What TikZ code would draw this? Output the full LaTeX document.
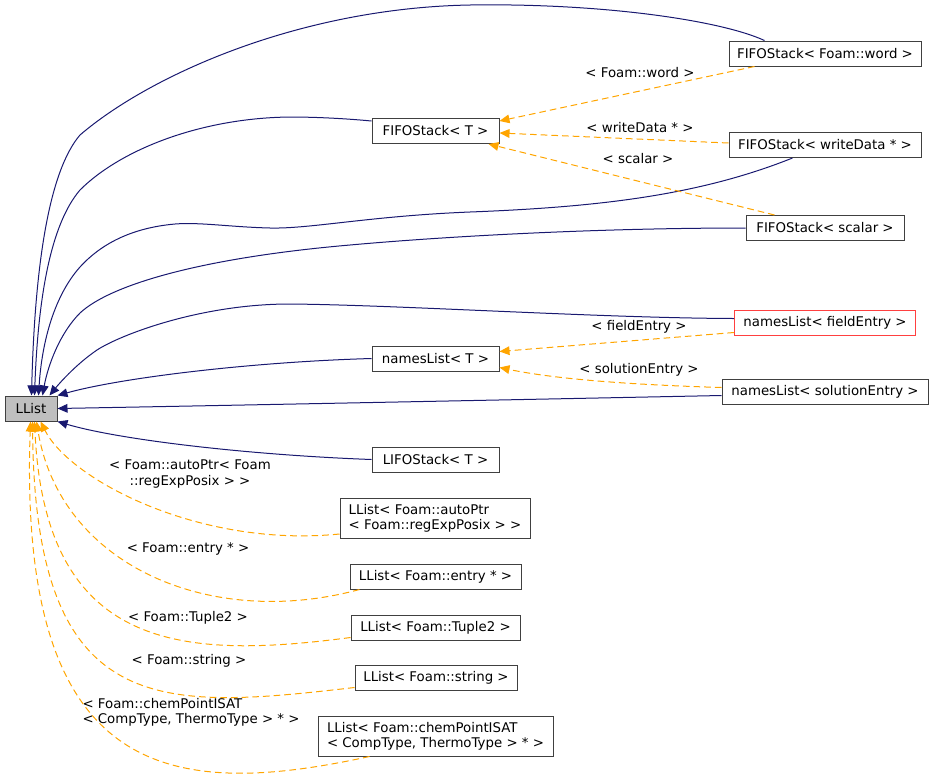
\documentclass[tikz,border=0pt]{standalone}
\usepackage{fontspec}
\setmainfont{DejaVu Sans}
\usetikzlibrary{arrows.meta,calc}
\definecolor{navyedge}{HTML}{191970}
\definecolor{tmpledge}{HTML}{FFA500}
\definecolor{boxline}{HTML}{404040}
\tikzstyle{cls} = [rectangle, draw=boxline, fill=white, line width=0.75pt, minimum height=18.75pt, inner xsep=0pt, font=\fontsize{10}{11.5}\selectfont]
\tikzstyle{lbl} = [inner sep=0pt, font=\fontsize{10}{11.5}\selectfont]
\tikzstyle{pub} = [->, navyedge, line width=0.75pt]
\tikzstyle{tmpl} = [->, tmpledge, line width=0.75pt, dash pattern=on 5pt off 3pt]

\begin{document}
\begin{tikzpicture}[x=0.75pt,y=-0.75pt,>={Triangle[length=7.5pt,width=6.5pt]}]
  \useasboundingbox (0,0) rectangle (933,783);

  % classes
  \node[cls, fill=black!25, minimum width=39pt] (llist) at (31,408.5) {LList};
  \node[cls, minimum width=144pt] (fword) at (825,53.5) {FIFOStack< Foam::word >};
  \node[cls, minimum width=95.25pt] (fT) at (435.5,131) {FIFOStack< T >};
  \node[cls, minimum width=144pt] (fwd) at (825,145) {FIFOStack< writeData * >};
  \node[cls, minimum width=118.5pt] (fscalar) at (825,228) {FIFOStack< scalar >};
  \node[cls, draw=red!75, minimum width=135.75pt] (nfield) at (825,322.5) {namesList< fieldEntry >};
  \node[cls, minimum width=95.25pt] (nT) at (435.5,358.5) {namesList< T >};
  \node[cls, minimum width=154.5pt] (nsol) at (825,391.5) {namesList< solutionEntry >};
  \node[cls, minimum width=95.25pt] (lT) at (435.5,459.5) {LIFOStack< T >};
  \node[cls, minimum width=142.5pt, minimum height=30pt, align=left] (lauto) at (435,518) {LList< Foam::autoPtr\\< Foam::regExpPosix > >};
  \node[cls, minimum width=128.25pt] (lentry) at (435.5,576.5) {LList< Foam::entry * >};
  \node[cls, minimum width=126.75pt] (ltuple) at (435.5,627.5) {LList< Foam::Tuple2 >};
  \node[cls, minimum width=121.5pt] (lstring) at (436,677.5) {LList< Foam::string >};
  \node[cls, minimum width=176.25pt, minimum height=30pt, align=left] (lchem) at (435.5,736) {LList< Foam::chemPointISAT\\< CompType, ThermoType > * >};

  % template arguments
  \node[lbl] (tword) at (640,73) {< Foam::word >};
  \node[lbl] (twd) at (640,128) {< writeData * >};
  \node[lbl] (tscalar) at (638,159) {< scalar >};
  \node[lbl] (tfield) at (639,327) {< fieldEntry >};
  \node[lbl] (tsol) at (639,370) {< solutionEntry >};
  \node[lbl, align=center] (tauto) at (190,474) {< Foam::autoPtr< Foam\\::regExpPosix > >};
  \node[lbl] (tentry) at (188,549) {< Foam::entry * >};
  \node[lbl] (ttuple) at (188,618) {< Foam::Tuple2 >};
  \node[lbl] (tstring) at (189,661) {< Foam::string >};
  \node[lbl, align=left] (tchem) at (191,712.5) {< Foam::chemPointISAT\\< CompType, ThermoType > * >};

  % inheritance
  \draw[pub] ($(fword.north west)+(36,0)$) .. controls (720,20) and (600,3) .. (470,5)
    .. controls (300,8) and (150,75) .. (80,135)
    .. controls (50,170) and (35,260) .. ($(llist.north west)+(27,0)$);
  \draw[pub] ($(fT.west)+(0,-10)$) .. controls (340,118) and (310,117) .. (290,117)
    .. controls (200,118) and (120,150) .. (80,190)
    .. controls (50,225) and (38,300) .. ($(llist.north west)+(30,0)$);
  \draw[pub] ($(fwd.south west)+(64,0)$) .. controls (700,195) and (600,207) .. (470,212)
    .. controls (370,216) and (310,229) .. (270,228)
    .. controls (230,227) and (200,222) .. (175,224)
    .. controls (130,228) and (100,245) .. (80,267)
    .. controls (55,295) and (42,340) .. ($(llist.north west)+(34,0)$);
  \draw[pub] (fscalar.west) .. controls (600,228) and (450,236) .. (350,245)
    .. controls (200,258) and (110,285) .. (80,313)
    .. controls (60,333) and (48,365) .. ($(llist.north west)+(38,0)$);
  \draw[pub] ($(nfield.west)+(0,-4)$) .. controls (600,318) and (400,305) .. (290,304)
    .. controls (200,304) and (120,335) .. (97,350)
    .. controls (75,365) and (58,385) .. ($(llist.north west)+(45,0)$);
  \draw[pub] (nT.west) .. controls (250,362) and (120,378) .. (llist.north east);
  \draw[pub] ($(nsol.west)+(0,4)$) .. controls (500,400) and (250,405) .. (llist.east);
  \draw[pub] (lT.west) .. controls (250,455) and (120,440) .. (llist.south east);

  \path (fword.south west) ++(26,0) coordinate (fwordfoot);
  \draw[tmpl] (fwordfoot) -- ($(fT.north east)+(0,3)$);
  \draw[tmpl] ($(fwd.west)+(0,-2)$) -- ($(fT.east)+(0,2)$);
  \draw[tmpl] ($(fscalar.north west)+(29,0)$) -- ($(fT.south east)+(-11,0)$);
  \draw[tmpl] ($(nfield.west)+(0,10)$) -- ($(nT.east)+(0,-7)$);
  \draw[tmpl] ($(nsol.west)+(0,-4)$) .. controls (640,385) and (560,380) .. ($(nT.east)+(0,9)$);

  \draw[tmpl] ($(lauto.west)+(0,16)$) .. controls (200,548) and (70,480) .. ($(llist.south west)+(36,0)$);
  \draw[tmpl] ($(lentry.south west)+(10,0)$) .. controls (210,630) and (60,565) .. ($(llist.south west)+(32,0)$);
  \draw[tmpl] ($(ltuple.west)+(0,10)$) .. controls (180,660) and (45,650) .. ($(llist.south west)+(30,0)$);
  \draw[tmpl] ($(lstring.west)+(0,10)$) .. controls (160,710) and (35,720) .. ($(llist.south west)+(28,0)$);
  \draw[tmpl] ($(lchem.south west)+(52,0)$) .. controls (170,800) and (18,780) .. ($(llist.south west)+(26,0)$);
\end{tikzpicture}
\end{document}
